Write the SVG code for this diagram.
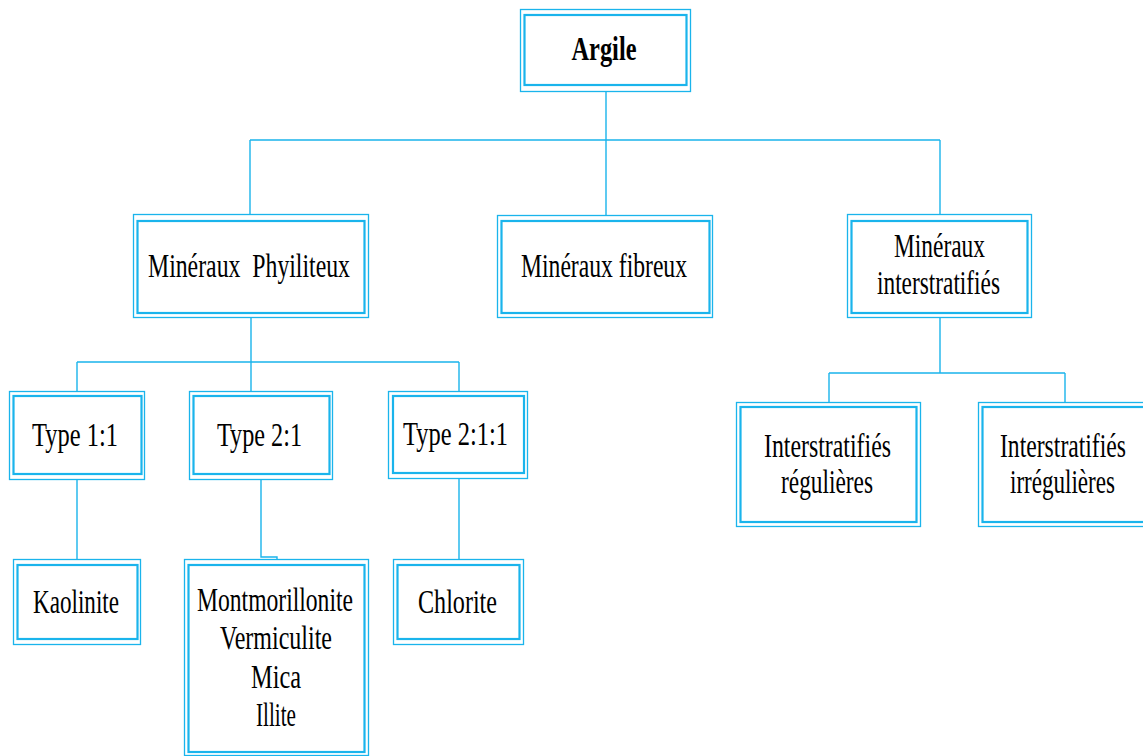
<svg xmlns="http://www.w3.org/2000/svg" width="1143" height="756" viewBox="0 0 1143 756">
<style>
.o{fill:#fff;stroke:#1ab4ec;stroke-width:1.3}
.i{fill:none;stroke:#1ab4ec;stroke-width:2.2}
.c{fill:none;stroke:#1ab4ec;stroke-width:1.4}
text{font-family:'Liberation Serif','DejaVu Serif',serif;font-size:34px;fill:#000;text-anchor:middle}
.b{font-weight:bold}
</style>
<rect width="1143" height="756" fill="#fff"/>
<g id="connectors">
<path class="c" d="M606 91V140M250 140H940M250 140V214M606 140V215M940 140V214"/>
<path class="c" d="M251 318V362M77 362H459M77 362V391M251 362V391M459 362V391"/>
<path class="c" d="M77 480V559M261 480V557H277V559M459 479V559"/>
<path class="c" d="M940 318V373M829 373H1065M829 373V402M1065 373V402"/>
</g>
<g font-family="Liberation Serif, DejaVu Serif, serif">
<g id="argile">
<rect class="o" x="520.5" y="9.5" width="170" height="82"/>
<rect class="i" x="524.5" y="15" width="162" height="70"/>
<text class="b" x="604" y="60" textLength="65" lengthAdjust="spacingAndGlyphs">Argile</text>
</g>
<g id="phyliteux">
<rect class="o" x="133.5" y="214.5" width="235" height="103"/>
<rect class="i" x="137.5" y="221" width="227" height="92"/>
<text x="249" y="277" textLength="202" lengthAdjust="spacingAndGlyphs" xml:space="preserve">Minéraux  Phyiliteux</text>
</g>
<g id="fibreux">
<rect class="o" x="497.5" y="215.5" width="215" height="102"/>
<rect class="i" x="501.5" y="221" width="208" height="92"/>
<text x="604" y="277" textLength="166" lengthAdjust="spacingAndGlyphs">Minéraux fibreux</text>
</g>
<g id="interstratifies">
<rect class="o" x="847.5" y="214.5" width="184" height="103"/>
<rect class="i" x="851.5" y="221" width="176" height="92"/>
<text x="939.5" y="257" textLength="91" lengthAdjust="spacingAndGlyphs">Minéraux</text>
<text x="938.5" y="294" textLength="123" lengthAdjust="spacingAndGlyphs">interstratifiés</text>
</g>
<g id="type11">
<rect class="o" x="9.5" y="391.5" width="135" height="88"/>
<rect class="i" x="13.5" y="396" width="128" height="78"/>
<text x="75" y="446" textLength="86" lengthAdjust="spacingAndGlyphs">Type 1:1</text>
</g>
<g id="type21">
<rect class="o" x="189.5" y="391.5" width="143" height="88"/>
<rect class="i" x="193.5" y="396" width="136" height="78"/>
<text x="259.5" y="446" textLength="85" lengthAdjust="spacingAndGlyphs">Type 2:1</text>
</g>
<g id="type211">
<rect class="o" x="388.5" y="391.5" width="139" height="87"/>
<rect class="i" x="393" y="396" width="131" height="77"/>
<text x="455.5" y="445" textLength="105" lengthAdjust="spacingAndGlyphs">Type 2:1:1</text>
</g>
<g id="kaolinite">
<rect class="o" x="13.5" y="559.5" width="127" height="85"/>
<rect class="i" x="17.5" y="565" width="120" height="74"/>
<text x="76" y="613" textLength="86" lengthAdjust="spacingAndGlyphs">Kaolinite</text>
</g>
<g id="montmorillonite">
<rect class="o" x="184.5" y="559.5" width="184" height="196"/>
<rect class="i" x="188.5" y="565" width="176" height="187"/>
<text x="275" y="611" textLength="156" lengthAdjust="spacingAndGlyphs">Montmorillonite</text>
<text x="276" y="649" textLength="112" lengthAdjust="spacingAndGlyphs">Vermiculite</text>
<text x="276" y="688" textLength="50" lengthAdjust="spacingAndGlyphs">Mica</text>
<text x="276" y="726" textLength="40" lengthAdjust="spacingAndGlyphs">Illite</text>
</g>
<g id="chlorite">
<rect class="o" x="393.5" y="559.5" width="130" height="85"/>
<rect class="i" x="397.5" y="565" width="122" height="74"/>
<text x="457.5" y="613" textLength="79" lengthAdjust="spacingAndGlyphs">Chlorite</text>
</g>
<g id="reguliers">
<rect class="o" x="736.5" y="402.5" width="184" height="124"/>
<rect class="i" x="740.5" y="407" width="176" height="115"/>
<text x="827.5" y="457" textLength="127" lengthAdjust="spacingAndGlyphs">Interstratifiés</text>
<text x="827" y="493" textLength="92" lengthAdjust="spacingAndGlyphs">régulières</text>
</g>
<g id="irreguliers">
<rect class="o" x="978.5" y="402.5" width="184" height="124"/>
<rect class="i" x="982.5" y="407" width="176" height="115"/>
<text x="1063" y="457" textLength="126" lengthAdjust="spacingAndGlyphs">Interstratifiés</text>
<text x="1062.5" y="493" textLength="105" lengthAdjust="spacingAndGlyphs">irrégulières</text>
</g>
</g>
</svg>
